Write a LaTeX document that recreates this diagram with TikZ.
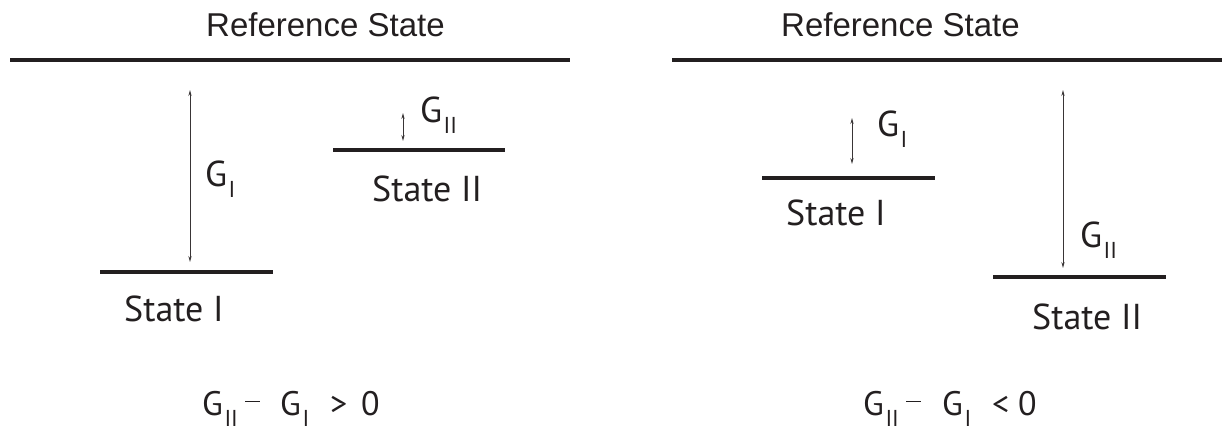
\documentclass[tikz,border=0pt]{standalone}
\usepackage{fontspec}
\setmainfont{PT Sans}
\newfontfamily\helv{Liberation Sans}
\usetikzlibrary{arrows.meta}
\definecolor{ink}{HTML}{231F20}
\newcommand\Gsub[1]{G\kern1.5pt\raisebox{-11pt}{\fontsize{23}{23}\selectfont #1}}
\begin{document}
\begin{tikzpicture}[x=1pt,y=-1pt,
  level/.style={line width=4.5pt, draw=ink},
  gap/.style={line width=0.8pt, draw=ink!90, {Stealth[length=6pt,width=3.2pt]}-{Stealth[length=6pt,width=3.2pt]}},
  txt/.style={anchor=base west, inner sep=0, text=ink, font=\fontsize{36}{40}\selectfont},
  ftxt/.style={anchor=base west, inner sep=0, text=ink, font=\fontsize{34}{38}\selectfont},
  ttl/.style={anchor=base west, inner sep=0, text=ink, font=\helv\fontsize{33}{36}\selectfont}]
\useasboundingbox[fill=white] (0,0) rectangle (1232,430);

% ---------- left panel ----------
\node[ttl] (refL) at (206,37) {Reference State};
\coordinate (refLa) at (10,60);
\coordinate (refLb) at (570,60);
\draw[level] (refLa) -- (refLb);

\coordinate (sIa) at (100,272);
\coordinate (sIb) at (273,272);
\draw[level] (sIa) -- (sIb);
\node[txt] (sIL) at (124,322) {State I};

\coordinate (sIIa) at (333,150);
\coordinate (sIIb) at (505,150);
\draw[level] (sIIa) -- (sIIb);
\node[txt] (sIIL) at (372,202) {State II};

\coordinate (gIt) at (190,90);
\coordinate (gIb) at (190,262);
\draw[gap] (gIt) -- (gIb);
\node[txt] (gIL) at (205,187) {\Gsub{I}};

\coordinate (gIIt) at (403,113);
\coordinate (gIIb) at (403,141);
\draw[gap] (gIIt) -- (gIIb);
\node[txt] (gIIL) at (420,123) {\Gsub{II}};

\node[ftxt] (fL1) at (202,415) {\Gsub{II}};
\node[ftxt] (fL2) at (245,415) {\rule[13pt]{15pt}{1.5pt}};
\node[ftxt] (fL3) at (280,415) {\Gsub{I}};
\node[ftxt] (fL4) at (330,415) {>};
\node[ftxt] (fL5) at (361,415) {0};

% ---------- right panel ----------
\node[ttl] (refR) at (781,37) {Reference State};
\coordinate (refRa) at (672,60);
\coordinate (refRb) at (1222,60);
\draw[level] (refRa) -- (refRb);

\coordinate (rIa) at (762,178);
\coordinate (rIb) at (935,178);
\draw[level] (rIa) -- (rIb);
\node[txt] (rIL) at (786,226) {State I};

\coordinate (rIIa) at (993,277);
\coordinate (rIIb) at (1166,277);
\draw[level] (rIIa) -- (rIIb);
\node[txt] (rIIL) at (1032,330) {State II};

\coordinate (hIt) at (852,118);
\coordinate (hIb) at (852,164);
\draw[gap] (hIt) -- (hIb);
\node[txt] (hIL) at (877,137) {\Gsub{I}};

\coordinate (hIIt) at (1063,90);
\coordinate (hIIb) at (1063,268);
\draw[gap] (hIIt) -- (hIIb);
\node[txt] (hIIL) at (1080,248) {\Gsub{II}};

\node[ftxt] (fR1) at (863,415) {\Gsub{II}};
\node[ftxt] (fR2) at (906,415) {\rule[13pt]{15pt}{1.5pt}};
\node[ftxt] (fR3) at (942,415) {\Gsub{I}};
\node[ftxt] (fR4) at (992,415) {<};
\node[ftxt] (fR5) at (1018,415) {0};
\end{tikzpicture}
\end{document}
